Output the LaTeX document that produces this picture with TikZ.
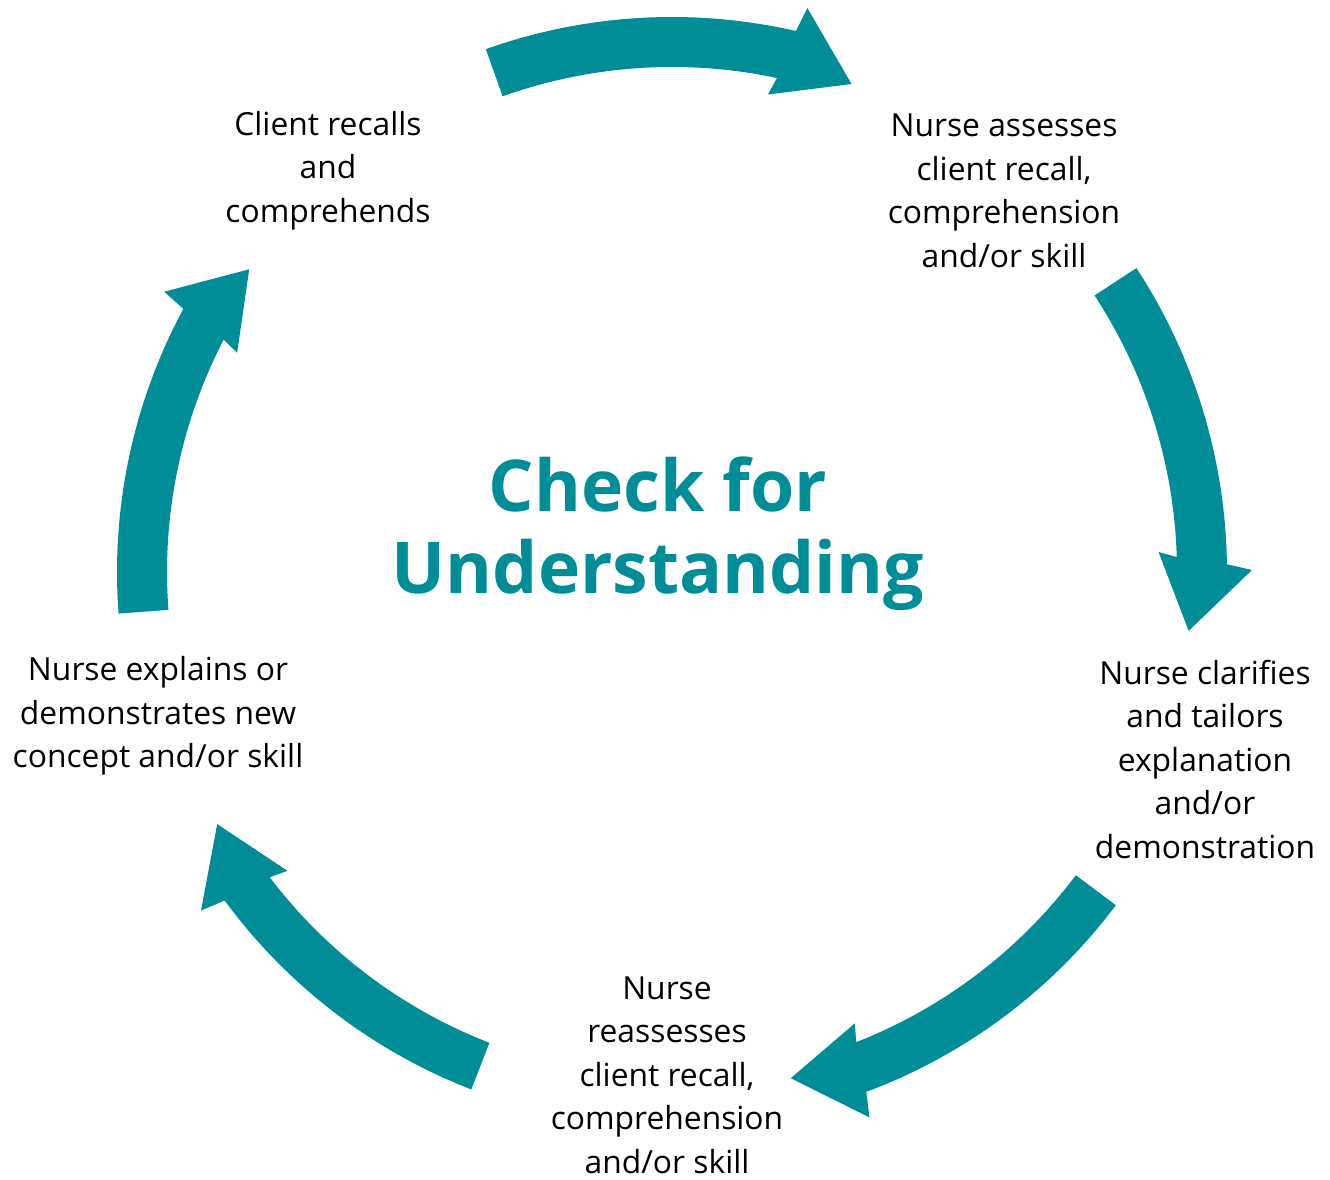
\documentclass[tikz,border=0pt]{standalone}
\usepackage{fontspec}
\setmainfont{Open Sans}
\newfontfamily\titlefont{Open Sans}
\usetikzlibrary{calc}
\definecolor{cycleteal}{RGB}{1,141,152}
\tikzset{
  steplabel/.style={align=center, inner sep=0pt, text=black,
    font=\fontsize{31.8}{43.5}\selectfont},
  titlelabel/.style={align=center, inner sep=0pt, text=cycleteal,
    font=\titlefont\bfseries\fontsize{71.5}{82}\selectfont},
  cyclearrowfill/.style={fill=cycleteal, draw=none},
}
% Curved block arrow on the ring around (C), running clockwise
% from tail angle #1 to the head base at angle #2.
\newcommand\ringarrow[2]{%
  \fill[cyclearrowfill]
    ($(C)+(#1:555)$) arc[start angle=#1, end angle={#2-0.4}, radius=555pt]
    -- ($(C)+({#2-1}:580)$)
    -- ($(C)+({#2-7.7}:520)$)
    -- ($(C)+({#2+1.15}:487)$)
    -- ($(C)+({#2+0.5}:505)$)
    arc[start angle={#2+0.5}, end angle=#1, radius=505pt]
    -- cycle;}
\begin{document}
\begin{tikzpicture}[x=1pt, y=1pt]
  \useasboundingbox[fill=white] (0,0) rectangle (1330,1179);
  \coordinate (C) at (672,607);

  % the five arrows of the cycle
  \ringarrow{109.6}{77.5}
  \ringarrow{33.2}{1.2}
  \ringarrow{-36.9}{-69.1}
  \ringarrow{248.8}{216.7}
  \ringarrow{184.3}{152.1}

  % centre title
  \node[titlelabel] (title) at (658,645) {Check for\\Understanding};

  % step labels
  \node[steplabel] (recall) at (328,1008.5) {Client recalls\\and\\comprehends};
  \node[steplabel] (assess) at (1004,988) {Nurse assesses\\client recall,\\comprehension\\and/or skill};
  \node[steplabel] (clarify) at (1205,420) {Nurse clarifies\\and tailors\\explanation\\and/or\\demonstration};
  \node[steplabel] (reassess) at (667,104) {Nurse\\reassesses\\client recall,\\comprehension\\and/or skill};
  \node[steplabel] (explain) at (158,463) {Nurse explains or\\demonstrates new\\concept and/or skill};
\end{tikzpicture}
\end{document}
